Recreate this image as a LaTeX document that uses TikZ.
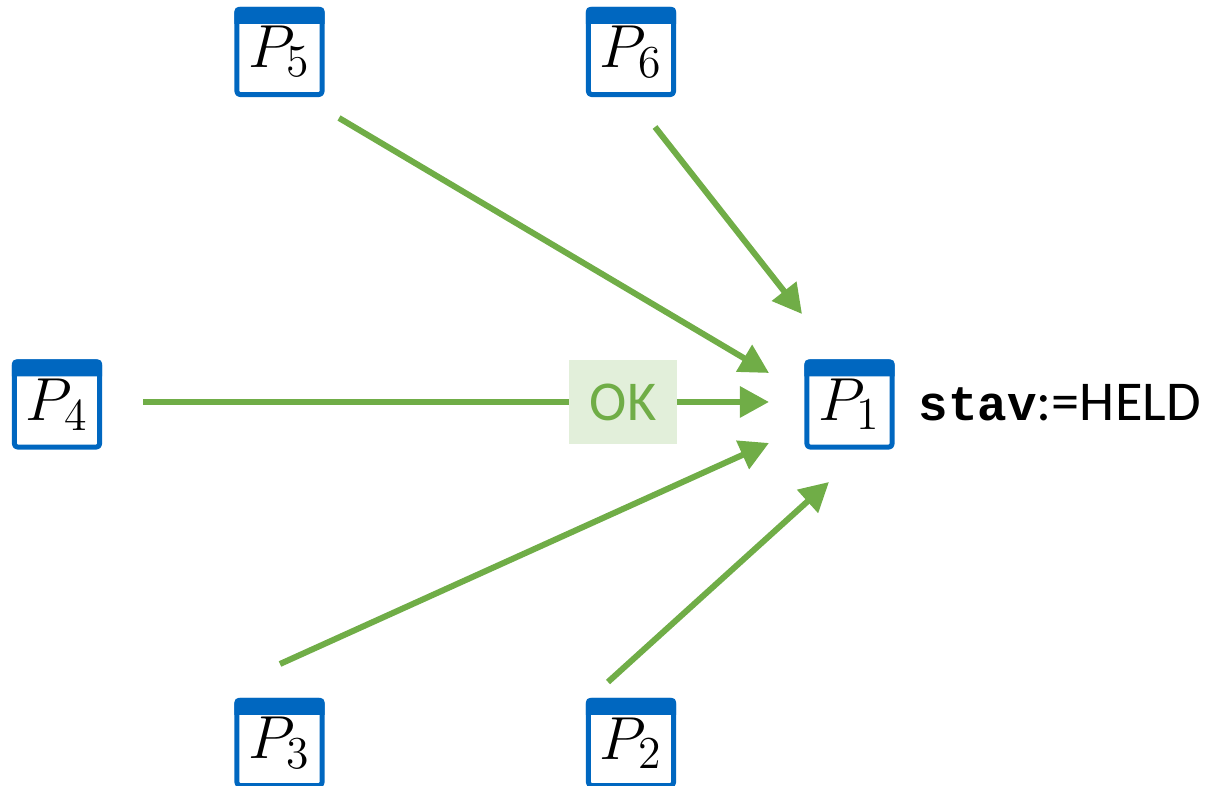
\documentclass[tikz,border=0pt]{standalone}
\usepackage{fontspec}
\usepackage{tikz}
\usetikzlibrary{arrows.meta}
\usetikzlibrary{positioning}
\newfontfamily\calibrifont{Carlito}
\newfontfamily\courfont{Liberation Mono}
\definecolor{procblue}{RGB}{0,103,192}
\definecolor{okgreen}{RGB}{112,173,71}
\definecolor{okfill}{RGB}{226,239,218}
\newcommand\pid[1]{\raisebox{-0.07cm}{$P_{\mbox{\fontsize{13}{13}\selectfont #1}}$}}

\begin{document}
\begin{tikzpicture}[x=0.01cm,y=-0.01cm,line cap=round,line join=round,
    proc/.style={draw=procblue,fill=white,line width=0.05cm,rounded corners=0.03cm,
      minimum width=0.85cm,minimum height=0.85cm,inner sep=0pt,
      font=\fontsize{17}{20}\selectfont},
    flow/.style={draw=okgreen,line width=0.06cm,line cap=butt,
      -{Triangle[length=0.29cm,width=0.3cm]}},
    okbox/.style={fill=okfill,text=okgreen,minimum width=1.08cm,minimum height=0.83cm,
      inner sep=0pt,font=\calibrifont\fontsize{16}{19}\selectfont}]
  \useasboundingbox (0,0) rectangle (1205,786);
  % processes
  \node[proc] (p1) at (849.5,404.5) {\pid{1}};
  \node[proc] (p2) at (631,743) {\pid{2}};
  \node[proc] (p3) at (279.5,743) {\pid{3}};
  \node[proc] (p4) at (57,404.5) {\pid{4}};
  \node[proc] (p5) at (279.5,52) {\pid{5}};
  \node[proc] (p6) at (631,52) {\pid{6}};
  % window title bars
  \foreach \n in {p1,p2,p3,p4,p5,p6}
    \fill[procblue] ([shift={(0,17)}]\n.north west) [rounded corners=0.04cm]
      -- (\n.north west) -- (\n.north east) [sharp corners]
      -- ([shift={(0,17)}]\n.north east) -- cycle;
  \node[anchor=base west,inner sep=0pt] (state) at (918,421)
    {{\courfont\fontsize{14}{16}\selectfont\bfseries stav}{\calibrifont\fontsize{16}{19}\selectfont :=HELD}};
  % messages to P1
  \coordinate (s5) at (339,118);  \coordinate (t5) at (769,373);
  \coordinate (s6) at (655,127);  \coordinate (t6) at (802,314);
  \coordinate (s4) at (143,402);  \coordinate (t4) at (769,402);
  \coordinate (s3) at (280,664);  \coordinate (t3) at (769,443);
  \coordinate (s2) at (608,682);  \coordinate (t2) at (829,482);
  \draw[flow] (s5) -- (t5);
  \draw[flow] (s6) -- (t6);
  \draw[flow] (s4) -- (t4) node[okbox,pos=0.767] (ok) {OK};
  \draw[flow] (s3) -- (t3);
  \draw[flow] (s2) -- (t2);
\end{tikzpicture}
\end{document}
